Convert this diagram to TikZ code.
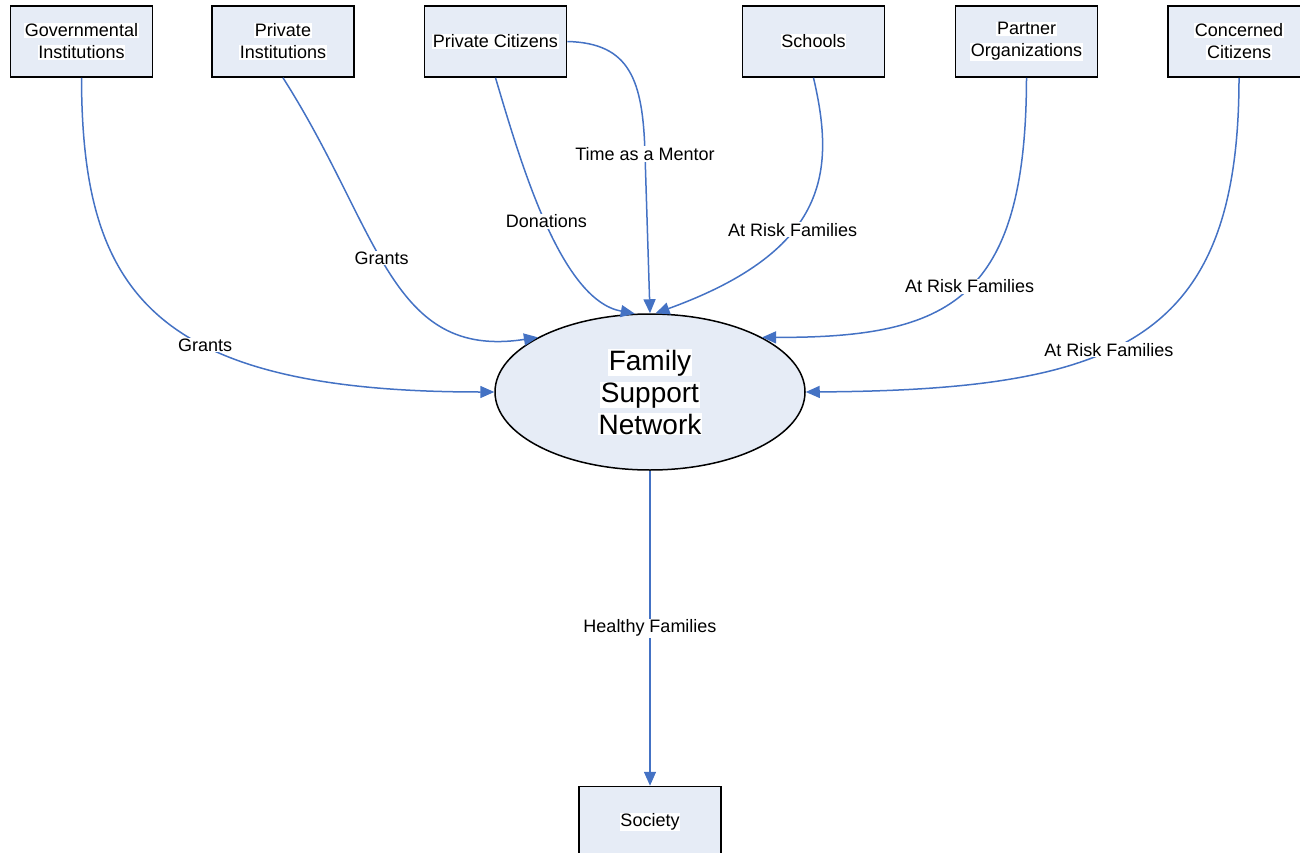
\documentclass[tikz,border=0pt]{standalone}
\usepackage{fontspec}
\setmainfont{Liberation Sans}
\usepackage{tikz}
\usetikzlibrary{shapes.geometric, arrows.meta, positioning}
\definecolor{boxfill}{RGB}{230,236,246}
\definecolor{flowblue}{RGB}{68,114,196}
\newcommand{\hl}[1]{{\setlength{\fboxsep}{0.6pt}\colorbox{white}{#1}}}

\begin{document}
\begin{tikzpicture}[
    x=1pt, y=-1pt,
    node distance=315pt,
    box/.style={rectangle, draw=black, fill=boxfill, line width=1.6pt,
                minimum width=142pt, minimum height=71pt, align=center,
                font=\fontsize{18}{22}\selectfont, inner sep=2pt},
    hub/.style={ellipse, draw=black, fill=boxfill, line width=1.5pt,
                minimum width=310pt, minimum height=156pt, align=center,
                font=\fontsize{28}{32}\selectfont},
    flow/.style={-{Triangle[length=14pt, width=12pt]}, line width=1.5pt, color=flowblue},
    lbl/.style={fill=white, text=black, inner sep=1pt, font=\fontsize{18}{20}\selectfont}
]
\useasboundingbox (0,0) rectangle (1300,853);

% Nodes
\node[hub] (net) at (650,392) {\hl{Family}\\\hl{Support}\\\hl{Network}};

\node[box] (gov) at (81.5,41.5) {\hl{Governmental}\\\hl{Institutions}};
\node[box] (priv) at (283,41.5) {\hl{Private}\\\hl{Institutions}};
\node[box] (pc) at (495.5,41.5) {\hl{Private Citizens}};
\node[box] (school) at (813.5,41.5) {\hl{Schools}};
\node[box] (partner) at (1026.5,41.5) {\hl{Partner}\\\hl{Organizations}};
\node[box] (concern) at (1239,41.5) {\hl{Concerned}\\\hl{Citizens}};

\node[box] (society) [below=of net] {\hl{Society}};

% Arrows
\draw[flow] (gov.south) .. controls (82,290) and (150,392) .. node[lbl, pos=0.61] {Grants} (net.west);
\draw[flow] (priv.south) .. controls (380,230) and (390,360) .. node[lbl, pos=0.45] {Grants} (net.154);
\draw[flow] (pc.south) .. controls (520,160) and (560,300) .. node[lbl, pos=0.5] {Donations} (net.101);
\draw[flow] (pc.east) .. controls (630,43) and (643,80) .. (645,154) node[lbl] {Time as a Mentor} -- (net.north);
\draw[flow] (school.south) .. controls (835,170) and (830,250) .. node[lbl, pos=0.6] {At Risk Families} (net.86);
\draw[flow] (partner.south) .. controls (1026,300) and (950,338) .. node[lbl, pos=0.48] {At Risk Families} (net.26);
\draw[flow] (concern.south) .. controls (1239,340) and (1120,390) .. node[lbl, pos=0.57] {At Risk Families} (net.east);
\draw[flow] (net.south) -- node[lbl] {Healthy Families} (society.north);

\end{tikzpicture}
\end{document}
